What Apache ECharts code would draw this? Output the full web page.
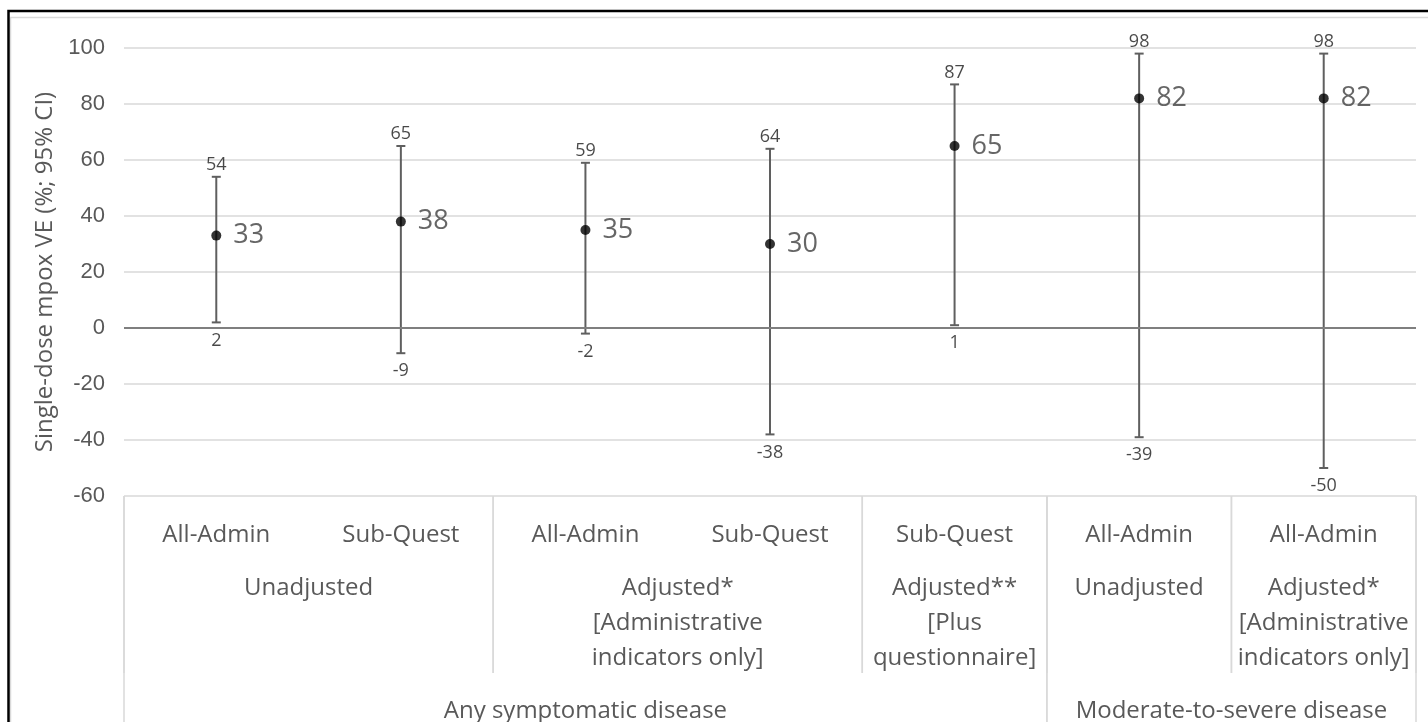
<!DOCTYPE html>
<html><head><meta charset="utf-8">
<script src="https://cdn.jsdelivr.net/npm/echarts@6/dist/echarts.min.js"></script>
<style>html,body{margin:0;padding:0;background:#fff}#c{width:1428px;height:722px}</style>
</head><body><div id="c"></div>
<script>
const categories = ['All-Admin','Sub-Quest','All-Admin','Sub-Quest','Sub-Quest','All-Admin','All-Admin'];
const pointEstimates = [33, 38, 35, 30, 65, 82, 82];
const upperCI = [54, 65, 59, 64, 87, 98, 98];
const lowerCI = [2, -9, -2, -38, 1, -39, -50];
const level2Labels = ['Unadjusted', 'Adjusted*\n[Administrative\nindicators only]', 'Adjusted**\n[Plus\nquestionnaire]', 'Unadjusted', 'Adjusted*\n[Administrative\nindicators only]'];
const level2Spans = [[0,1],[2,3],[4,4],[5,5],[6,6]];
const level3Labels = ['Any symptomatic disease', 'Moderate-to-severe disease'];
const level3Spans = [[0,4],[5,6]];
const yMin = -60, yMax = 100, yStep = 20;
const yTitle = 'Single-dose mpox VE (%; 95% CI)';

const FONT = '"Open Sans", "Noto Sans", sans-serif';
const GRID = '#d9d9d9';
const TXT = '#595959';

const chart = echarts.init(document.getElementById('c'), null, {renderer: 'canvas'});

const groupData = level2Spans.map((s, i) => [s[0], s[1], 2, i]).concat(level3Spans.map((s, i) => [s[0], s[1], 3, i]));

function renderGroup(params, api) {
  const s = api.value(0), e = api.value(1), lvl = api.value(2), idx = api.value(3);
  const band = api.size([1, 0])[0];
  const p0 = api.coord([s, yMin]);
  const p1 = api.coord([e, yMin]);
  const x0 = p0[0] - band / 2, x1 = p1[0] + band / 2;
  const top = p0[1];
  const H = api.getHeight();
  const bottom = lvl === 2 ? top + 177 : H;
  const label = lvl === 2 ? level2Labels[idx] : level3Labels[idx];
  const ls = {stroke: GRID, lineWidth: 1.5};
  return {
    type: 'group',
    children: [
      {type: 'line', shape: {x1: x0, y1: top, x2: x0, y2: bottom}, style: ls},
      {type: 'line', shape: {x1: x1, y1: top, x2: x1, y2: bottom}, style: ls},
      {type: 'text', style: {
        x: (x0 + x1) / 2, y: lvl === 2 ? top + 74.5 : top + 215,
        text: label, align: 'center', verticalAlign: lvl === 2 ? 'top' : 'middle',
        fontSize: 24, fontFamily: FONT, fill: TXT, lineHeight: 35
      }}
    ]
  };
}

function renderErr(params, api) {
  const lo = api.coord([api.value(0), api.value(1)]);
  const hi = api.coord([api.value(0), api.value(2)]);
  const w = 4.5;
  const st = {stroke: '#5f5f5f', lineWidth: 2};
  return {
    type: 'group',
    children: [
      {type: 'line', shape: {x1: lo[0], y1: lo[1], x2: hi[0], y2: hi[1]}, style: st},
      {type: 'line', shape: {x1: lo[0] - w, y1: lo[1], x2: lo[0] + w, y2: lo[1]}, style: st},
      {type: 'line', shape: {x1: hi[0] - w, y1: hi[1], x2: hi[0] + w, y2: hi[1]}, style: st}
    ]
  };
}

const option = {
  animation: false,
  backgroundColor: '#fff',
  grid: {left: 124, right: 12, top: 48, bottom: 226, containLabel: false},
  xAxis: {
    type: 'category',
    data: categories,
    boundaryGap: true,
    axisLine: {show: false},
    axisTick: {show: false},
    splitLine: {show: false},
    axisLabel: {
      interval: 0, margin: 39, verticalAlign: 'middle',
      fontSize: 24, fontFamily: FONT, color: TXT
    }
  },
  yAxis: {
    type: 'value', min: yMin, max: yMax, interval: yStep,
    name: yTitle, nameLocation: 'middle', nameRotate: 90, nameGap: 60,
    nameTextStyle: {fontSize: 24, fontFamily: FONT, color: TXT},
    axisLine: {show: false},
    axisTick: {show: false},
    axisLabel: {margin: 19, fontSize: 22, fontFamily: 'Arial, "Liberation Sans", sans-serif', color: TXT},
    splitLine: {lineStyle: {color: GRID, width: 1.5}}
  },
  graphic: [
    {type: 'rect', shape: {x: 10.5, y: 17.5, width: 1440, height: 720}, style: {fill: 'none', stroke: '#d9d9d9', lineWidth: 1.5}, silent: true},
    {type: 'rect', shape: {x: 8.5, y: 11, width: 1440, height: 730}, style: {fill: 'none', stroke: '#000', lineWidth: 2.5}, silent: true}
  ],
  series: [
    {
      type: 'custom', name: 'table', clip: false, silent: true, z: 1,
      renderItem: renderGroup, data: groupData
    },
    {
      type: 'custom', name: 'ci', silent: true, z: 2,
      renderItem: renderErr,
      data: pointEstimates.map((v, i) => [i, lowerCI[i], upperCI[i]])
    },
    {
      type: 'scatter', name: 'zero', silent: true, z: 2, symbolSize: 0,
      data: [],
      markLine: {
        silent: true, symbol: 'none', label: {show: false},
        lineStyle: {color: '#7f7f7f', width: 2, type: 'solid'},
        data: [{yAxis: 0}]
      }
    },
    {
      type: 'scatter', name: 'upper', silent: true, z: 3, symbolSize: 0,
      data: upperCI.map((v, i) => [i, v]),
      label: {show: true, position: 'top', distance: 3, fontSize: 18, fontFamily: FONT, color: '#1a1a1a',
        formatter: p => String(p.value[1])}
    },
    {
      type: 'scatter', name: 'lower', silent: true, z: 3, symbolSize: 0,
      data: lowerCI.map((v, i) => [i, v]),
      label: {show: true, position: 'bottom', distance: 9, fontSize: 18, fontFamily: FONT, color: '#1a1a1a',
        formatter: p => String(p.value[1])}
    },
    {
      type: 'scatter', name: 'VE', z: 4, symbol: 'circle', symbolSize: 10,
      itemStyle: {color: '#000'},
      data: pointEstimates.map((v, i) => [i, v]),
      label: {show: true, position: 'right', distance: 12, fontSize: 27, fontFamily: FONT, color: '#404040',
        formatter: p => String(p.value[1])}
    }
  ]
};
chart.setOption(option);
</script>
</body></html>
